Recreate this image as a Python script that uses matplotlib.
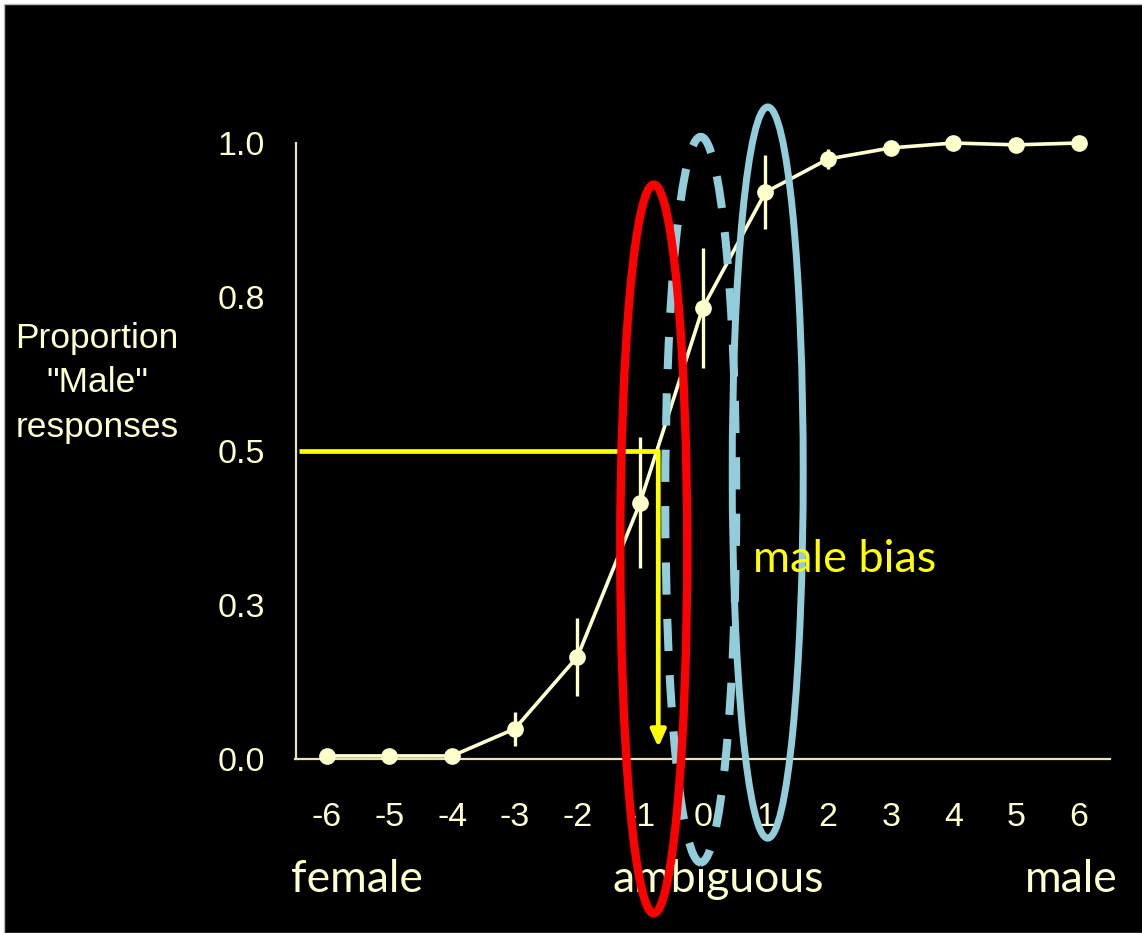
import numpy as np
import matplotlib
matplotlib.use("Agg")
import matplotlib.pyplot as plt
from matplotlib.patches import Ellipse, Rectangle

# morph continuum steps (female -> male) and proportion of "male" responses
steps = [-6, -5, -4, -3, -2, -1, 0, 1, 2, 3, 4, 5, 6]
p_male = [0.005, 0.005, 0.005, 0.049, 0.166, 0.416, 0.732, 0.920, 0.974, 0.992, 1.0, 0.997, 1.0]
p_err = [0.0, 0.0, 0.0, 0.028, 0.063, 0.106, 0.098, 0.060, 0.017, 0.0, 0.0, 0.0, 0.0]

y_ticks = [0.0, 0.25, 0.5, 0.75, 1.0]
y_ticklabels = ["0.0", "0.3", "0.5", "0.8", "1.0"]

# point of subjective equality (50% "male")
pse_x = -0.71
pse_y = 0.5

CREAM = "#FFFFCC"
AXIS = "#E8E3BE"
BLUE = "#92CDDC"
YELLOW = "#FFFF00"

W, H = 1142, 933
fig = plt.figure(figsize=(W / 100, H / 100), dpi=100, facecolor="white")
# black slide background with a thin light edge on the top/left
fig.patches.append(Rectangle((4 / W, 0), 1, 1 - 4 / H, transform=fig.transFigure,
                             facecolor="black", edgecolor="#BBBBBB", linewidth=1.0,
                             zorder=-10))

ax = fig.add_axes([295.5 / W, 1 - 759 / H, 814.5 / W, 616 / H])
ax.set_facecolor("none")
ax.set_xlim(-6.5, 6.5)
ax.set_ylim(0, 1.0)

for side in ("top", "right"):
    ax.spines[side].set_visible(False)
for side in ("left", "bottom"):
    ax.spines[side].set_color(AXIS)
    ax.spines[side].set_linewidth(1.6)

ax.set_xticks(steps)
ax.set_xticklabels([str(s) for s in steps])
ax.set_yticks(y_ticks)
ax.set_yticklabels(y_ticklabels)
ax.tick_params(axis="both", length=0, colors=CREAM, labelsize=24.5)
ax.tick_params(axis="x", pad=31)
ax.tick_params(axis="y", pad=22)
for lbl in ax.get_xticklabels() + ax.get_yticklabels():
    lbl.set_fontfamily("Liberation Sans")

ax.errorbar(steps, p_male, yerr=p_err, color=CREAM, ecolor=CREAM, elinewidth=2.4,
            capsize=0, linewidth=2.6, marker="o", markersize=11, clip_on=False,
            zorder=3)

# 50% crossover guide
ax.plot([-6.45, pse_x], [pse_y, pse_y], color=YELLOW, linewidth=3.4,
        solid_capstyle="butt", zorder=4)
ax.annotate("", xy=(pse_x, 0.019), xytext=(pse_x, pse_y),
            arrowprops=dict(arrowstyle="-|>,head_length=1.0,head_width=0.45",
                            color=YELLOW, lw=3.4, shrinkA=0, shrinkB=0),
            zorder=4)

# highlighted stimulus columns
ax.add_patch(Ellipse((-0.032, 0.421), 1.133, 1.178, fill=False, edgecolor=BLUE,
                     linewidth=5.8, linestyle=(2.0, (4.0, 3.0)), clip_on=False, zorder=5))
ax.add_patch(Ellipse((1.037, 0.465), 1.133, 1.187, fill=False, edgecolor=BLUE,
                     linewidth=5.0, clip_on=False, zorder=5))
ax.add_patch(Ellipse((-0.782, 0.341), 1.069, 1.183, fill=False, edgecolor="#FF0000",
                     linewidth=6.0, clip_on=False, zorder=6))

ax.text(0.80, 0.304, "male bias", color=YELLOW, fontsize=32.5, family="Lato",
        ha="left", va="baseline", zorder=7)

fig.text(97 / W, 1 - 383 / H, 'Proportion\n"Male"\nresponses', color=CREAM,
         fontsize=25.5, family="Liberation Sans", ha="center", va="center",
         linespacing=1.45, zorder=-1)

for label, cx in (("female", 357), ("ambiguous", 718), ("male", 1071)):
    fig.text(cx / W, 1 - 892 / H, label, color=CREAM, fontsize=32, family="Lato",
             ha="center", va="baseline", zorder=-1)

fig.savefig("out.png", dpi=100, facecolor=fig.get_facecolor())
